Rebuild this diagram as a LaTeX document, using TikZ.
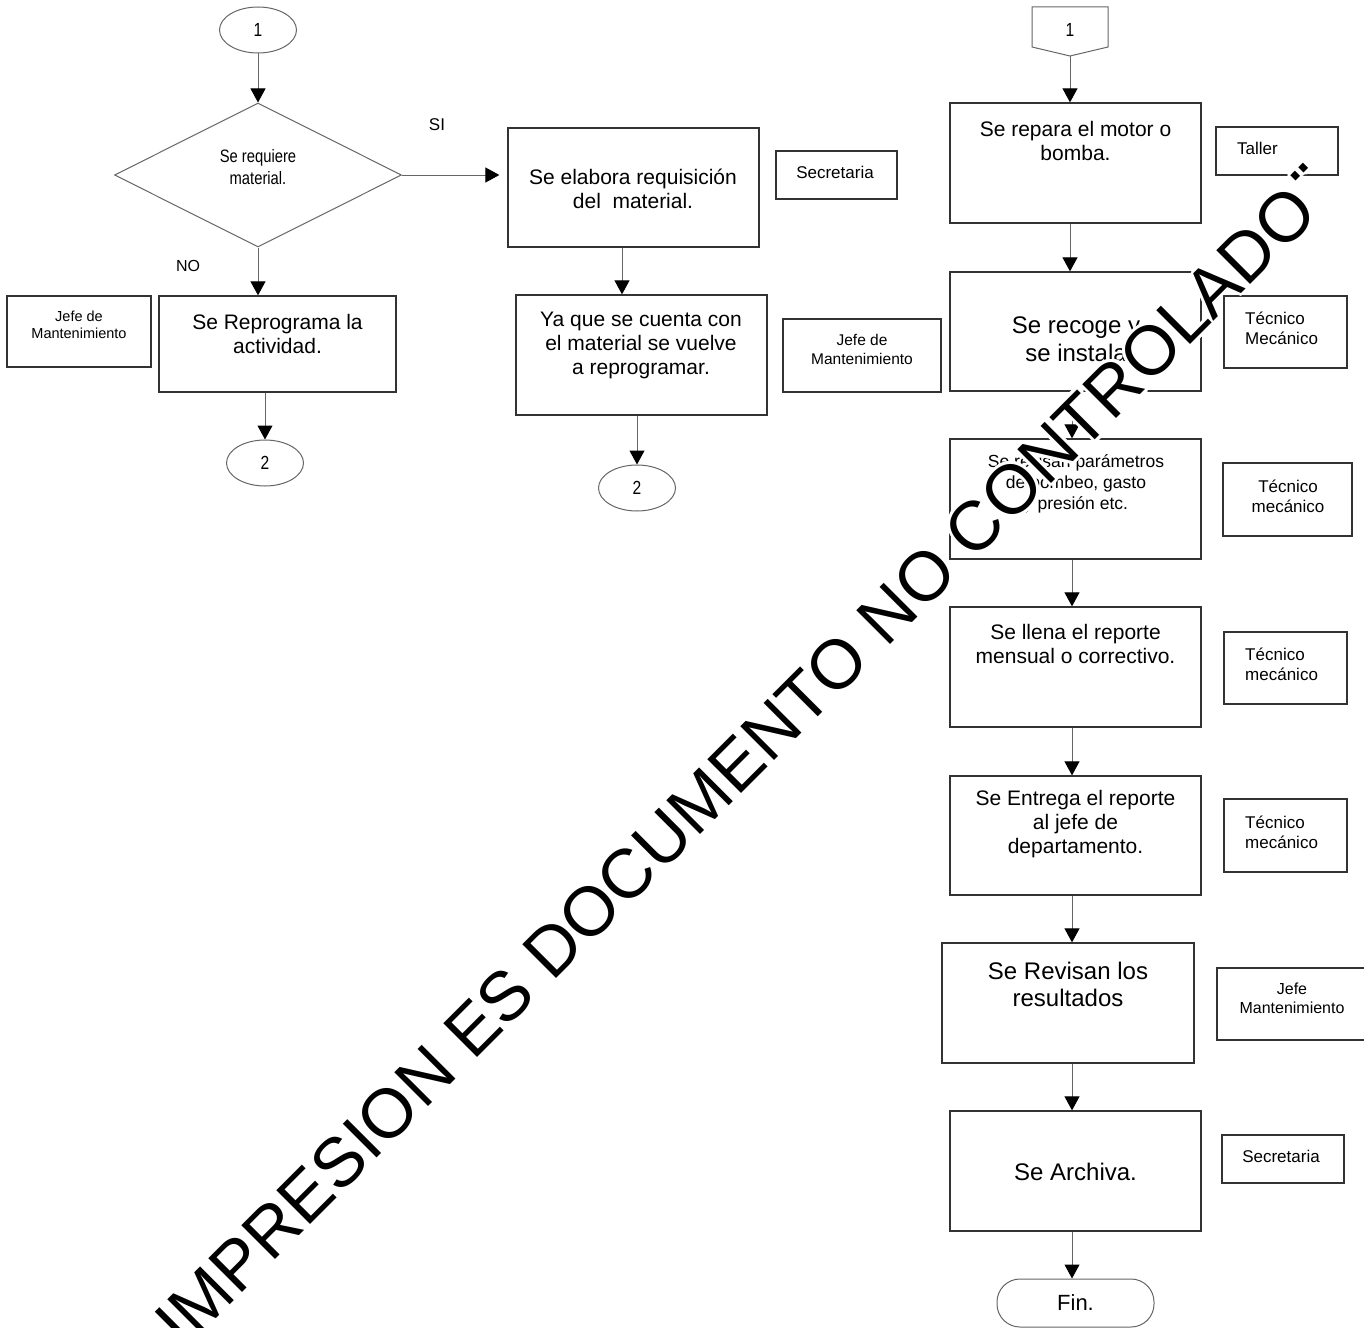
\documentclass[tikz,border=0pt]{standalone}
\usepackage{fontspec}
\setmainfont{Liberation Sans}
\newfontfamily\narrowfont{Liberation Sans}[FakeStretch=0.82]
\usepackage[copies]{contour}
\contourlength{3pt}
\usetikzlibrary{shapes.geometric,arrows.meta}
\definecolor{boxc}{gray}{0.2}
\definecolor{linec}{gray}{0.4}
\tikzset{
  box/.style={draw=boxc,line width=1.3pt,fill=white,inner sep=0pt,minimum width=251pt,minimum height=120pt},
  lab/.style={draw=boxc,line width=1.2pt,fill=white,inner sep=0pt},
  txt/.style={inner sep=0pt,align=center,font=\fontsize{21}{24}\selectfont},
  bigtxt/.style={inner sep=0pt,align=center,font=\fontsize{24}{28}\selectfont},
  labtxt/.style={inner sep=0pt,align=center,font=\fontsize{17}{20}\selectfont},
  labl/.style={inner sep=0pt,align=left,anchor=west,font=\fontsize{17}{20}\selectfont},
  conn/.style={ellipse,draw=linec,line width=1pt,fill=white,minimum width=77pt,minimum height=46pt,inner sep=0pt,font=\narrowfont\fontsize{19}{22}\selectfont},
  flow/.style={draw=linec,line width=1pt,-{Triangle[width=15pt,length=14pt,color=black]}}
}
\begin{document}
\begin{tikzpicture}[x=1pt,y=-1pt]
\useasboundingbox (0,0) rectangle (1364,1327);
\fill[white] (0,0) rectangle (1364,1327);
\coordinate (mx) at (622,0);
\coordinate (rx0) at (1070,0);
\coordinate (rx) at (1072,0);

% ---------- left column ----------
\node[conn] (e1) at (258,30) {1};
\node[diamond,aspect=2,draw=linec,line width=1pt,fill=white,minimum width=287pt,minimum height=144pt,inner sep=0pt] (dia) at (258,175) {};
\node[inner sep=0pt,align=center,font=\narrowfont\fontsize{18}{22}\selectfont] (diat) at (258,167) {Se requiere\\material.};
\node[inner sep=0pt,font=\fontsize{17}{20}\selectfont] (si) at (437,125) {SI};
\node[inner sep=0pt,font=\fontsize{16}{20}\selectfont] (no) at (188,266) {NO};

\node[box,minimum width=237pt,minimum height=96pt] (bsr) at (277.5,344) {};
\node[txt] (bsrt) at (277.5,334) {Se Reprograma la\\actividad.};
\node[lab,minimum width=144pt,minimum height=71pt] (l1) at (79,331.5) {};
\node[labtxt,font=\fontsize{14.5}{17}\selectfont] (l1t) at (79,325) {Jefe de\\Mantenimiento};
\node[conn] (e2) at (265,463) {2};

% ---------- middle column ----------
\node[box,minimum height=119pt] (bel) at (633.5,187.5) {};
\node[txt] (belt) at (633,189) {Se elabora requisición\\del\ \ material.};
\node[lab,minimum width=121pt,minimum height=48pt] (l2) at (836.5,175) {};
\node[labtxt] (l2t) at (835,172) {Secretaria};
\node[box] (bya) at (641.5,355) {};
\node[txt] (byat) at (641,345) {Ya que se cuenta con\\el material se vuelve\\a reprogramar.};
\node[lab,minimum width=158pt,minimum height=73pt] (l3) at (862,355.5) {};
\node[labtxt,font=\fontsize{15.5}{19}\selectfont] (l3t) at (862,349) {Jefe de\\Mantenimiento};
\node[conn] (e3) at (637,488) {2};

% ---------- right column ----------
\draw[linec,line width=1pt,fill=white] (1032,7) -- (1108,7) -- (1108,47) -- (1070,56) -- (1032,47) -- cycle;
\node[inner sep=0pt,font=\narrowfont\fontsize{19}{22}\selectfont] (opc) at (1070,30) {1};
\coordinate (opctip) at (1070,56);

\node[box] (r1) at (1075.5,163) {};
\node[txt] (r1t) at (1075.5,141) {Se repara el motor o\\bomba.};
\node[lab,minimum width=122pt,minimum height=48pt] (l4) at (1277,151) {};
\node[labl] (l4t) at (1237,148) {Taller};

\node[box,minimum height=119pt] (r2) at (1075.5,331.5) {};
\node[bigtxt] (r2t) at (1076,339) {Se recoge y\\se instala};
\node[lab,minimum width=123pt,minimum height=72pt] (l5) at (1285.5,332) {};
\node[labl] (l5t) at (1245,328) {Técnico\\Mecánico};

\node[box] (r3) at (1075.5,499) {};
\node[txt,font=\fontsize{17.5}{21}\selectfont] (r3t) at (1076,484) {Se revisan parámetros\\de bombeo, gasto\\y presión etc.};
\node[lab,minimum width=129pt,minimum height=73pt] (l6) at (1287.5,499.5) {};
\node[labtxt] (l6t) at (1288,496) {Técnico\\mecánico};

\node[box] (r4) at (1075.5,667) {};
\node[txt] (r4t) at (1075.5,644) {Se llena el reporte\\mensual o correctivo.};
\node[lab,minimum width=123pt,minimum height=72pt] (l7) at (1285.5,668) {};
\node[labl] (l7t) at (1245,664) {Técnico\\mecánico};

\node[box,minimum height=119pt] (r5) at (1075.5,835.5) {};
\node[txt] (r5t) at (1075.5,824) {Se Entrega el reporte\\al jefe de\\departamento.};
\node[lab,minimum width=123pt,minimum height=73pt] (l8) at (1285.5,835.5) {};
\node[labl] (l8t) at (1245,832) {Técnico\\mecánico};

\node[box,minimum width=252pt] (r6) at (1068,1003) {};
\node[bigtxt,font=\fontsize{24}{27}\selectfont] (r6t) at (1068,984) {Se Revisan los\\resultados};
\node[lab,minimum width=149pt,minimum height=72pt] (l9) at (1291.5,1004) {};
\node[labtxt,font=\fontsize{16}{19}\selectfont] (l9t) at (1292,998.5) {Jefe\\Mantenimiento};

\node[box] (r7) at (1075.5,1171) {};
\node[bigtxt] (r7t) at (1075.5,1172) {Se Archiva.};
\node[lab,minimum width=122pt,minimum height=48pt] (l10) at (1283,1159) {};
\node[labtxt] (l10t) at (1281,1156) {Secretaria};

\node[draw=linec,line width=1pt,fill=white,rounded corners=23pt,minimum width=157pt,minimum height=48pt,inner sep=0pt,font=\fontsize{22}{26}\selectfont] (fin) at (1075.5,1303) {Fin.};

% ---------- connectors ----------
\draw[flow] (e1.south) -- (dia.north);
\draw[flow,shorten >=8pt] (dia.east) -- (dia.east -| bel.west);
\draw[flow] (dia.south) -- (dia.south |- bsr.north);
\draw[flow] (e2.north |- bsr.south) -- (e2.north);
\draw[flow] (bel.south -| mx) -- (bya.north -| mx);
\draw[flow] (e3.north |- bya.south) -- (e3.north);
\draw[flow] (opctip) -- (opctip |- r1.north);
\draw[flow] (r1.south -| rx0) -- (r2.north -| rx0);
\draw[flow] (r2.south -| rx) -- (r3.north -| rx);
\draw[flow] (r3.south -| rx) -- (r4.north -| rx);
\draw[flow] (r4.south -| rx) -- (r5.north -| rx);
\draw[flow] (r5.south -| rx) -- (r6.north -| rx);
\draw[flow] (r6.south -| rx) -- (r7.north -| rx);
\draw[flow] (r7.south -| rx) -- (fin.north -| rx);

% ---------- watermark ----------
\node[anchor=base west,rotate=45,inner sep=0pt,font=\fontsize{69.4}{80}\selectfont] (wm) at (184,1351)
  {\contour{white}{IMPRESION ES DOCUMENTO NO CONTROLADO\raisebox{0.59em}{.\kern-0.1em.}}};
\end{tikzpicture}
\end{document}
